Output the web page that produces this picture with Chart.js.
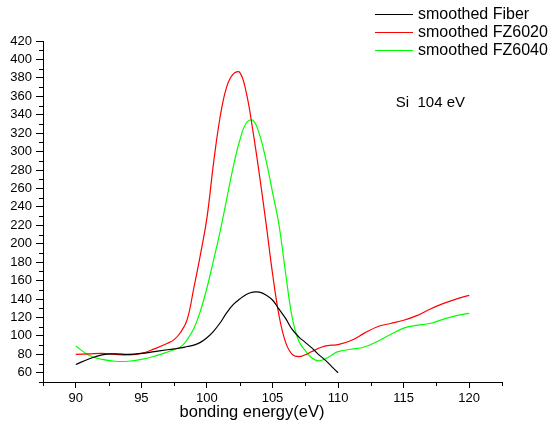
<!DOCTYPE html>
<html>
<head>
<meta charset="utf-8">
<script src="https://cdn.jsdelivr.net/npm/chart.js@4.4.1/dist/chart.umd.min.js"></script>
<style>
  body { margin: 0; background: #fff; }
  #wrap { width: 555px; height: 428px; position: relative; }
</style>
</head>
<body>
<div id="wrap"><canvas id="xpsChart"></canvas></div>
<script>
// binding energy (eV) sample points
const energy = [90, 91, 92, 93, 94, 95, 96, 97,
  97.5, 98, 98.5, 99, 99.5, 100, 100.5, 101, 101.5, 102, 102.5, 103, 103.5, 104, 104.5,
  105, 105.5, 106, 106.5, 107, 107.5, 108, 108.5, 109, 109.5, 110,
  111, 112, 113, 114, 115, 116, 117, 118, 119, 120];

const fiber = [69, 75, 79.5, 80.5, 80, 81, 83, 85,
  86, 87, 88.5, 90, 93, 98, 105, 114, 125, 134, 140, 145, 147.5, 147.5, 144.5,
  139, 129, 119, 107, 99, 93, 87, 80, 74, 67, 60,
  null, null, null, null, null, null, null, null, null, null];

const fz6020 = [80, 80.5, 81, 80, 79.5, 81, 86, 92,
  96, 104, 118, 152, 188, 228, 287, 337, 370, 384, 386, 364, 323, 275, 223,
  168, 122, 93, 80, 77.5, 79.5, 83, 86.5, 89, 90, 90.5,
  95, 103, 110, 113.5, 117, 122, 129, 135, 140, 144];

const fz6040 = [89, 79, 74.5, 72.5, 72.5, 74.5, 78, 82.5,
  85, 88, 96, 108, 127, 152, 182, 213, 248, 283, 312, 331, 334, 319, 291,
  256, 220, 168, 120, 94.5, 84, 76, 73, 75, 79, 83,
  85.5, 88, 94, 101.5, 108.5, 111.5, 113.5, 118, 122, 124.5];

const xTicks = [90, 95, 100, 105, 110, 115, 120];
const xMinor = [87.5, 92.5, 97.5, 102.5, 107.5, 112.5, 117.5, 122.5];
const yTicks = [60, 80, 100, 120, 140, 160, 180, 200, 220, 240, 260, 280, 300, 320, 340, 360, 380, 400, 420];
const yMinor = [50, 70, 90, 110, 130, 150, 170, 190, 210, 230, 250, 270, 290, 310, 330, 350, 370, 390, 410];

const FONT = "'Liberation Sans', Arial, sans-serif";
Chart.defaults.font.family = FONT;
Chart.defaults.color = '#000';

const toPoints = vals => energy.map((e, i) => ({ x: e, y: vals[i] }));

// minor ticks, legend, axis title and the "Si 104 eV" note
const extras = {
  id: 'extras',
  afterDraw(chart) {
    const ctx = chart.ctx;
    const x = chart.scales.x, y = chart.scales.y;
    ctx.save();
    ctx.strokeStyle = '#000';
    ctx.lineWidth = 1;
    ctx.beginPath();
    xMinor.forEach(v => {
      const px = Math.round(x.getPixelForValue(v)) + 0.5;
      ctx.moveTo(px, x.top);
      ctx.lineTo(px, x.top + 4);
    });
    yMinor.forEach(v => {
      const py = Math.round(y.getPixelForValue(v)) + 0.5;
      ctx.moveTo(y.right - 4, py);
      ctx.lineTo(y.right, py);
    });
    ctx.stroke();

    ctx.font = '16px ' + FONT;
    ctx.textBaseline = 'middle';
    ctx.fillStyle = '#000';
    chart.data.datasets.forEach((ds, i) => {
      const ly = 14.5 + i * 18;
      ctx.strokeStyle = ds.borderColor;
      ctx.beginPath();
      ctx.moveTo(375, ly);
      ctx.lineTo(413, ly);
      ctx.stroke();
      ctx.fillText(ds.label, 418, ly);
    });

    // x axis title sits left of the plot centre in the original
    ctx.textAlign = 'center';
    ctx.font = '16.5px ' + FONT;
    ctx.fillText('bonding energy(eV)', 252, 412);

    ctx.textAlign = 'left';
    ctx.font = '15px ' + FONT;
    ctx.fillText('Si  104 eV', x.getPixelForValue(114.4), y.getPixelForValue(352.5));
    ctx.restore();
  }
};

const ctx = document.getElementById('xpsChart').getContext('2d');
new Chart(ctx, {
  type: 'line',
  data: {
    datasets: [
      { label: 'smoothed Fiber', data: toPoints(fiber), borderColor: '#000000' },
      { label: 'smoothed FZ6020', data: toPoints(fz6020), borderColor: '#ff0000' },
      { label: 'smoothed FZ6040', data: toPoints(fz6040), borderColor: '#00ff00' }
    ]
  },
  options: {
    responsive: true,
    maintainAspectRatio: false,
    animation: false,
    layout: { padding: { left: 0, right: 53, top: 41, bottom: 0 } },
    elements: {
      line: { borderWidth: 1.2, tension: 0.4, fill: false },
      point: { radius: 0, hoverRadius: 0 }
    },
    plugins: {
      legend: { display: false },
      tooltip: { enabled: false }
    },
    scales: {
      x: {
        type: 'linear',
        min: 87.5,
        max: 122.5,
        afterFit: s => { s.height = 46; },
        afterBuildTicks: s => { s.ticks = xTicks.map(v => ({ value: v })); },
        grid: { drawOnChartArea: false, drawTicks: true, tickLength: 6, color: '#000' },
        border: { display: true, color: '#000', width: 1 },
        ticks: { font: { size: 13 }, padding: 3, maxRotation: 0 }
      },
      y: {
        min: 50,
        max: 420,
        afterFit: s => { s.width = 43; },
        afterBuildTicks: s => { s.ticks = yTicks.map(v => ({ value: v })); },
        grid: { drawOnChartArea: false, drawTicks: true, tickLength: 7, color: '#000' },
        border: { display: true, color: '#000', width: 1 },
        ticks: { font: { size: 13 }, padding: 4 }
      }
    }
  },
  plugins: [extras]
});
</script>
</body>
</html>
